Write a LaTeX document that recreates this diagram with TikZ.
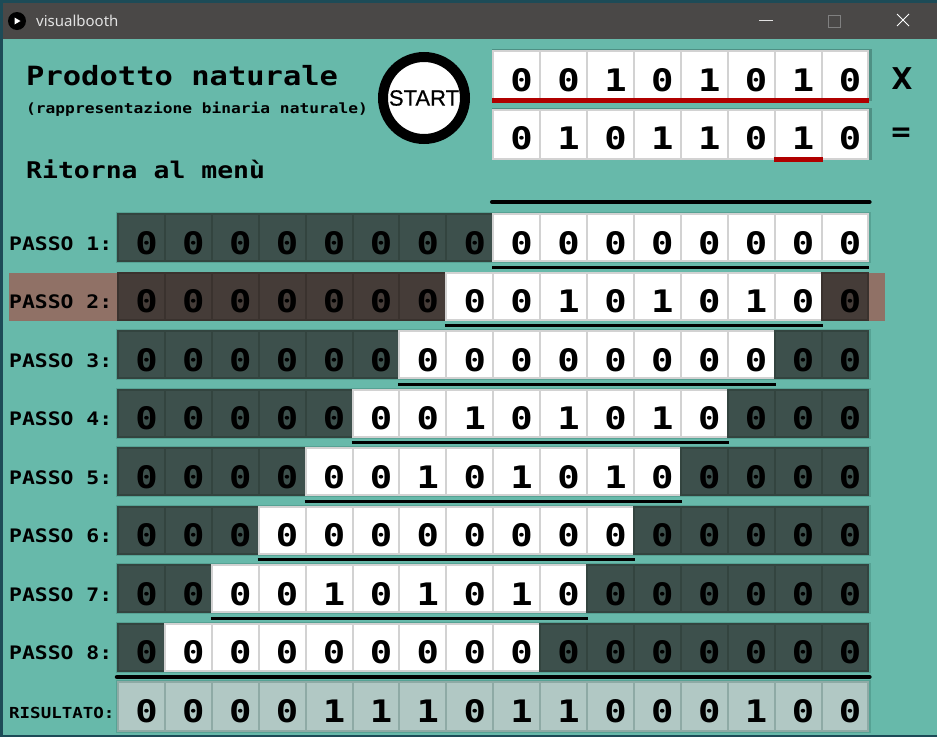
\documentclass[tikz,border=0pt]{standalone}
\usepackage{fontspec}
\newfontfamily\wmono[FakeStretch=1.15]{DejaVu Sans Mono}
\newfontfamily\dmono[FakeStretch=1.2]{DejaVu Sans Mono}
\newfontfamily\uisans{Noto Sans}
\newfontfamily\arialf{Liberation Sans}
\definecolor{bgteal}{HTML}{67B9AA}
\definecolor{rimc}{HTML}{56A294}
\definecolor{rimin}{HTML}{4E9084}
\definecolor{darkcell}{HTML}{3D504C}
\definecolor{darkline}{HTML}{33443F}
\definecolor{browncell}{HTML}{453C38}
\definecolor{brownline}{HTML}{3A322E}
\definecolor{brownhl}{HTML}{907166}
\definecolor{cellgray}{HTML}{D2D2D2}
\definecolor{rescell}{HTML}{B1C8C4}
\definecolor{resline}{HTML}{8EAAA5}
\definecolor{redc}{HTML}{B00000}
\definecolor{titlebar}{HTML}{4A4847}
\definecolor{winborder}{HTML}{1D4B57}
\definecolor{titletext}{HTML}{E2E2E2}
\begin{document}
\begin{tikzpicture}[x=1pt,y=-1pt,
  cellbase/.style={rectangle, minimum width=46.9pt, minimum height=47pt, inner sep=0pt, line width=2pt},
  wcell/.style={cellbase, fill=white, draw=cellgray},
  dcell/.style={cellbase, fill=darkcell, draw=darkline},
  bcell/.style={cellbase, fill=browncell, draw=brownline},
  rcell/.style={cellbase, fill=rescell, draw=resline, minimum height=49pt},
  digit/.style={inner sep=0pt, font=\dmono\bfseries\fontsize{31}{31}\selectfont, text=black},
  lbl/.style={inner sep=0pt, font=\wmono\bfseries\fontsize{18.6}{18.6}\selectfont, text=black},
  underln/.style={line width=3pt, black},
  thickln/.style={line width=4.5pt, black, line cap=round},
  redln/.style={line width=5pt, redc}
]
\useasboundingbox (0,0) rectangle (937,737);
% window
\fill[bgteal] (0,0) rectangle (937,737);
\fill[winborder] (0,0) rectangle (937,2.5);
\fill[winborder] (0,0) rectangle (2.5,737);
\fill[winborder] (0,735) rectangle (937,737);
\fill[titlebar] (2.5,2.5) rectangle (937,39);
\fill[black] (17,21) circle (9);
\fill[white] (14.5,17.5) -- (14.5,24.5) -- (20.5,21) -- cycle;
\node[anchor=base west, inner sep=0pt, text=titletext, font=\uisans\fontsize{15}{15}\selectfont] (wtitle) at (36,26.5) {visualbooth};
\draw[titletext, line width=1pt] (759,20) -- (773,20);
\draw[gray, line width=0.8pt] (828,15) rectangle (840,27);
\draw[white, line width=1pt] (897,14) -- (909,26) (897,26) -- (909,14);

% headings
\node[anchor=base west, inner sep=0pt, font=\wmono\bfseries\fontsize{26.5}{26.5}\selectfont] (title) at (26,85) {Prodotto naturale};
\node[anchor=base west, inner sep=0pt, font=\wmono\bfseries\fontsize{14.1}{14.1}\selectfont] (subtitle) at (26,113) {(rappresentazione binaria naturale)};
\node[anchor=base west, inner sep=0pt, font=\wmono\bfseries\fontsize{23}{23}\selectfont] (menu) at (26,178) {Ritorna al menù};
\node[circle, draw=black, line width=10pt, fill=white, minimum size=82pt, inner sep=0pt, font=\arialf\fontsize{22}{22}\selectfont] (start) at (424,98) {\addfontfeature{FakeBold=0.6}START};

% input registers
\fill[rimin] (491.5,48.5) rectangle (871.5,101);
\fill[rimin] (491.5,107.5) rectangle (871.5,160);
\foreach \k in {0,...,7} {
  \pgfmathsetmacro\cx{118+46.9*(\k+8)+23.45}
  \node[wcell, minimum height=49pt] (a\k) at (\cx,75) {};
  \node[wcell, minimum height=49pt] (b\k) at (\cx,134) {};
}
\foreach \k/\v in {0/0,1/0,2/1,3/0,4/1,5/0,6/1,7/0}
  \node[digit] (da\k) at ([shift={(5,5)}]a\k.center) {\v};
\foreach \k/\v in {0/0,1/1,2/0,3/1,4/1,5/0,6/1,7/0}
  \node[digit] (db\k) at ([shift={(5,4.5)}]b\k.center) {\v};
\draw[redln] (a0.south west) -- (a7.south east);
\draw[redln] (b6.south west) -- (b6.south east);
\node[inner sep=0pt, font=\wmono\bfseries\fontsize{30}{30}\selectfont] (times) at (902,79) {X};
\node[inner sep=0pt, font=\wmono\bfseries\fontsize{28}{28}\selectfont] (equals) at (901,135) {=};

% steps
\fill[brownhl] (9,273) rectangle (885,320.5);
\foreach \r/\pa in {1/0,2/1,3/0,4/1,5/1,6/0,7/1,8/0} {
  \pgfmathsetmacro\top{214+58.5*(\r-1)}
  \pgfmathtruncatemacro\s{9-\r}
  \ifnum\r=2\relax\else
    \fill[rimc] (116,\top-2) rectangle (871,\top+49);
  \fi
  \node[lbl, anchor=base west] (p\r) at (9,\top+36) {PASSO \r:};
  \foreach \k in {0,...,15} {
    \pgfmathtruncatemacro\j{\k-\s}
    \pgfmathtruncatemacro\isw{and(\j>=0,\j<=7)}
    \pgfmathtruncatemacro\dig{\pa*\isw*or(or(\j==2,\j==4),\j==6)}
    \ifnum\isw=1
      \tikzset{cur/.style={wcell}}
    \else
      \ifnum\r=2
        \tikzset{cur/.style={bcell}}
      \else
        \tikzset{cur/.style={dcell}}
      \fi
    \fi
    \node[cur] (c\r-\k) at (118+46.9*\k+23.45,\top+23.5) {};
    \node[digit] (d\r-\k) at ([shift={(5,5.5)}]c\r-\k.center) {\dig};
  }
}
% underlines of partial products
\draw[thickln] ([yshift=11pt]c1-8.north west) -- ([yshift=11pt]c1-15.north east);
\foreach \r in {1,...,7} {
  \pgfmathtruncatemacro\s{9-\r}
  \pgfmathtruncatemacro\e{16-\r}
  \draw[underln] ([yshift=-5pt]c\r-\s.south west) -- ([yshift=-5pt]c\r-\e.south east);
}
\draw[thickln] ([yshift=-5.5pt]c8-0.south west) -- ([yshift=-5.5pt]c8-15.south east);

% result
\fill[rimc] (116,680) rectangle (871,733);
\node[anchor=base west, inner sep=0pt, font=\wmono\bfseries\fontsize{15.2}{15.2}\selectfont] (res) at (9,718) {RISULTATO:};
\foreach \k/\v in {0/0,1/0,2/0,3/0,4/1,5/1,6/1,7/0,8/1,9/1,10/0,11/0,12/0,13/1,14/0,15/0} {
  \node[rcell] (r\k) at (118+46.9*\k+23.45,706.5) {};
  \node[digit] (dr\k) at ([shift={(5,5)}]r\k.center) {\v};
}
\end{tikzpicture}
\end{document}
